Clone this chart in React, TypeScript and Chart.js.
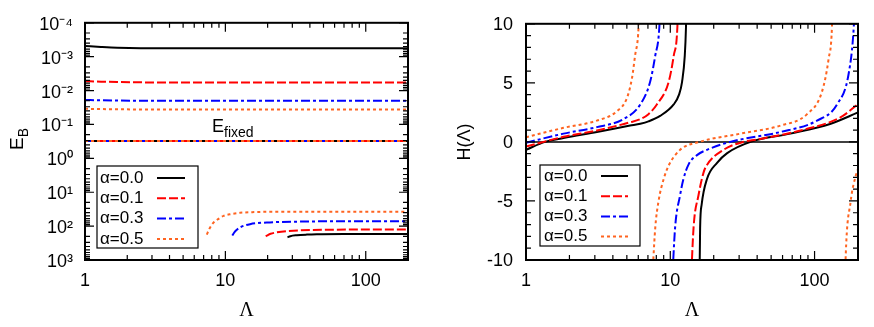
import React, { useEffect, useRef } from "react";
import { Chart, registerables } from "chart.js";

Chart.register(...registerables);

const SANS = "'Liberation Sans', Arial, Helvetica, sans-serif";
const SERIF = "'Liberation Serif', 'Times New Roman', serif";

// ---------- series meta ----------
const alphaLabels = ["α=0.0", "α=0.1", "α=0.3", "α=0.5"];
const colors = ["#000000", "#ff0000", "#0000ff", "#ff6420"];
const dashes: number[][] = [[], [9, 3], [9, 3, 3, 3], [3, 3]];

// ---------- ticks ----------
const xTicks = [1, 10, 100];
const eTickExponents = [-4, -3, -2, -1, 0, 1, 2, 3];
const hTicks = [-10, -5, 0, 5, 10];

// ---------- left panel: E_B vs Lambda ----------
const shallowLambda = [1, 1.3, 1.7, 2.5, 4, 200];
const shallowE0 = [4.83e-4, 5.15e-4, 5.43e-4, 5.62e-4, 5.65e-4, 5.65e-4];
const shallowE1 = [5.27e-3, 5.45e-3, 5.6e-3, 5.72e-3, 5.76e-3, 5.76e-3];
const shallowE3 = [0.019, 0.0194, 0.0197, 0.0199, 0.02, 0.02];
const shallowE5 = [0.0345, 0.0352, 0.0357, 0.036, 0.0361, 0.0361];

const fixedLambda = [1, 200];
const fixedE = [0.31, 0.31];

const deepLambda0 = [27.7, 29, 32.3, 38, 44.9, 80, 200];
const deepE0 = [213, 198, 186, 178, 174, 171, 170];
const deepLambda1 = [19.4, 20.2, 21, 23.2, 30.5, 58.9, 200];
const deepE1 = [200, 180, 168, 153, 136, 128, 125];
const deepLambda3 = [11.2, 11.5, 11.8, 12.7, 15, 19.7, 34, 60, 200];
const deepE3 = [190, 160, 140, 110, 87.5, 78.5, 73.5, 72, 71.8];
const deepLambda5 = [7.37, 7.7, 8.2, 9.0, 9.7, 11, 12.7, 16, 20, 40, 200];
const deepE5 = [178, 120, 80, 60, 50, 44, 40.5, 38.5, 37.8, 37.5, 37.5];

// ---------- right panel: H(Lambda) branches ----------
const hLamA0 = [1, 1.355, 1.82, 3.1, 5.27, 6.2, 7.06, 8.5, 10.56, 11.5, 12.07, 12.6, 12.85, 13.0];
const hValA0 = [-0.67, 0, 0.33, 0.84, 1.38, 1.54, 1.74, 2.2, 3.17, 4.0, 5.09, 7.28, 9.75, 13];
const hLamB0 = [15.9, 16.1, 16.5, 17.96, 21.1, 24.8, 36, 68, 128, 200];
const hValB0 = [-13, -7.26, -5.3, -3.14, -1.77, -0.95, 0, 0.7, 1.52, 2.49];

const hLamA1 = [1, 1.82, 3.1, 5.27, 6.2, 7.06, 8.07, 9.75, 10.56, 11.2, 11.4];
const hValA1 = [-0.4, 0.43, 0.97, 1.66, 1.93, 2.35, 3.17, 5.09, 7.28, 9.75, 13];
const hLamB1 = [13.8, 14.5, 15.7, 17.0, 17.96, 23.4, 32, 40, 80, 151, 200];
const hValB1 = [-13, -7.26, -4.5, -2.6, -1.95, -0.67, 0, 0.2, 0.97, 2.07, 3.2];

const hLamA3 = [1, 1.82, 3.1, 4.74, 6.2, 7.25, 7.86, 8.4, 8.6];
const hValA3 = [-0.07, 0.7, 1.25, 1.93, 3.17, 5.09, 7.28, 9.75, 13];
const hLamB3 = [10.2, 10.8, 11.7, 12.3, 13.4, 15.4, 17.96, 26, 58, 104, 143, 173, 187, 192];
const hValB3 = [-13, -7.26, -4.5, -3.2, -1.9, -1.1, -0.67, 0, 0.84, 1.8, 3.17, 5.9, 9.75, 13];

const hLamA5 = [1, 1.82, 3.1, 4.27, 5.0, 5.42, 5.7, 6.03, 6.15];
const hValA5 = [0.4, 1.19, 1.8, 2.6, 3.7, 5.37, 7.3, 9.75, 13];
const hLamB5 = [7.4, 7.87, 8.28, 9.0, 9.75, 11.7, 16.1, 30.6, 58, 88.7, 112.6, 125, 132, 134];
const hValB5 = [-13, -7.26, -5.06, -3.14, -2.0, -0.67, 0.02, 0.7, 1.38, 2.35, 4.26, 7.0, 9.75, 13];
const hLamC5 = [162, 164, 177.8, 193, 200];
const hValC5 = [-13, -10, -5.06, -2.86, -2.3];

const zeroLambda = [1, 200];
const zeroVal = [0, 0];

// ---------- helpers ----------
const SUP: Record<string, string> = {
  "-": "⁻", "0": "⁰", "1": "¹", "2": "²", "3": "³", "4": "⁴",
  "5": "⁵", "6": "⁶", "7": "⁷", "8": "⁸", "9": "⁹",
};
const supText = (n: number) => String(n).split("").map((c) => SUP[c]).join("");

const pts = (xs: number[], ys: number[]) => xs.map((x, i) => ({ x, y: ys[i] }));

function lineDs(data: any[], k: number) {
  return {
    data,
    borderColor: colors[k],
    backgroundColor: colors[k],
    borderWidth: 2,
    borderDash: dashes[k],
    pointRadius: 0,
    fill: false,
    cubicInterpolationMode: "monotone" as const,
    order: 10 - k,
  };
}

function logMinor(lo: number, hi: number) {
  const out: number[] = [];
  for (let d = lo; d <= hi * 10; d *= 10) {
    for (let m = 2; m <= 9; m++) {
      const v = m * d;
      if (v <= hi) out.push(v);
    }
  }
  return out;
}

function drawSub(ctx: CanvasRenderingContext2D, l: any) {
  ctx.save();
  ctx.translate(l.x, l.y);
  if (l.rot) ctx.rotate(l.rot);
  const mf = `${l.mainSize}px ${SANS}`;
  const sf = `${l.subSize}px ${SANS}`;
  ctx.font = mf;
  const w1 = ctx.measureText(l.main).width;
  ctx.font = sf;
  const w2 = ctx.measureText(l.sub).width;
  const x0 = l.center ? -(w1 + w2) / 2 : 0;
  ctx.textAlign = "left";
  ctx.textBaseline = "alphabetic";
  ctx.fillStyle = "#000";
  ctx.font = mf;
  ctx.fillText(l.main, x0, 0);
  ctx.font = sf;
  ctx.fillText(l.sub, x0 + w1, l.subDy);
  ctx.restore();
}

const framePlugin = {
  id: "frame",
  afterDatasetsDraw(chart: any, _args: any, opts: any) {
    const { ctx, chartArea: a } = chart;
    const xs = chart.scales.x;
    const ys = chart.scales.y;
    ctx.save();
    ctx.setLineDash([]);
    ctx.strokeStyle = "#000";
    ctx.lineWidth = 1.2;
    ctx.beginPath();
    const xt = (vals: number[], len: number) =>
      vals.forEach((v) => {
        const p = xs.getPixelForValue(v);
        if (p < a.left - 0.5 || p > a.right + 0.5) return;
        ctx.moveTo(p, a.bottom);
        ctx.lineTo(p, a.bottom - len);
        ctx.moveTo(p, a.top);
        ctx.lineTo(p, a.top + len);
      });
    const yt = (vals: number[], len: number) =>
      vals.forEach((v) => {
        const p = ys.getPixelForValue(v);
        if (p < a.top - 0.5 || p > a.bottom + 0.5) return;
        ctx.moveTo(a.left, p);
        ctx.lineTo(a.left + len, p);
        ctx.moveTo(a.right, p);
        ctx.lineTo(a.right - len, p);
      });
    xt(opts.xMajor, 9);
    xt(opts.xMinor, 5);
    yt(opts.yMajor, 9);
    yt(opts.yMinor, 5);
    ctx.stroke();
    ctx.lineWidth = 2;
    ctx.strokeRect(a.left, a.top, a.right - a.left, a.bottom - a.top);

    const lg = opts.legend;
    ctx.lineWidth = 1.2;
    ctx.strokeRect(lg.x, lg.y, lg.w, lg.h);
    ctx.font = `17px ${SANS}`;
    ctx.fillStyle = "#000";
    ctx.textBaseline = "middle";
    ctx.textAlign = "left";
    alphaLabels.forEach((t, k) => {
      const y = lg.row0 + k * lg.step;
      ctx.fillText(t, lg.textX, y);
      ctx.strokeStyle = colors[k];
      ctx.lineWidth = 2;
      ctx.setLineDash(dashes[k]);
      ctx.beginPath();
      ctx.moveTo(lg.s0, y);
      ctx.lineTo(lg.s1, y);
      ctx.stroke();
      ctx.setLineDash([]);
    });
    (opts.labels || []).forEach((l: any) => drawSub(ctx, l));
    ctx.restore();
  },
};

const tickFont = { family: SANS, size: 18 };

function xScale() {
  return {
    type: "logarithmic",
    min: 1,
    max: 200,
    afterBuildTicks: (s: any) => {
      s.ticks = xTicks.map((v) => ({ value: v }));
    },
    afterFit: (s: any) => {
      s.height = 67;
    },
    grid: { display: false, drawTicks: false },
    border: { display: false },
    ticks: {
      font: tickFont,
      color: "#000",
      padding: 10,
      autoSkip: false,
      maxRotation: 0,
      callback: (v: any) => String(v),
    },
    title: {
      display: true,
      text: "Λ",
      color: "#000",
      font: { family: SERIF, size: 20 },
      padding: { top: 0, bottom: 4 },
    },
  };
}

function leftConfig(): any {
  const datasets: any[] = [
    lineDs(pts(shallowLambda, shallowE0), 0),
    lineDs(pts(shallowLambda, shallowE1), 1),
    lineDs(pts(shallowLambda, shallowE3), 2),
    lineDs(pts(shallowLambda, shallowE5), 3),
    lineDs(pts(fixedLambda, fixedE), 0),
    lineDs(pts(fixedLambda, fixedE), 1),
    lineDs(pts(fixedLambda, fixedE), 2),
    lineDs(pts(fixedLambda, fixedE), 3),
    lineDs(pts(deepLambda0, deepE0), 0),
    lineDs(pts(deepLambda1, deepE1), 1),
    lineDs(pts(deepLambda3, deepE3), 2),
    lineDs(pts(deepLambda5, deepE5), 3),
  ];
  const yMinor: number[] = [];
  for (let e = -4; e < 3; e++) for (let m = 2; m <= 9; m++) yMinor.push(m * Math.pow(10, e));
  return {
    type: "line",
    data: { datasets },
    plugins: [framePlugin],
    options: {
      animation: false,
      responsive: false,
      devicePixelRatio: 1,
      layout: { padding: { left: 0, top: 17, right: 29, bottom: 0 } },
      plugins: {
        legend: { display: false },
        tooltip: { enabled: false },
        frame: {
          xMajor: xTicks,
          xMinor: logMinor(1, 200),
          yMajor: eTickExponents.map((e) => Math.pow(10, e)),
          yMinor,
          legend: { x: 97, y: 166, w: 101, h: 82, row0: 178, step: 20.3, textX: 100, s0: 157, s1: 185 },
          labels: [
            { x: 23, y: 139, rot: -Math.PI / 2, center: true, main: "E", sub: "B", mainSize: 19, subSize: 14, subDy: 5 },
            { x: 212, y: 132, rot: 0, center: false, main: "E", sub: "fixed", mainSize: 18, subSize: 14, subDy: 5 },
          ],
        },
      },
      scales: {
        x: xScale(),
        y: {
          type: "logarithmic",
          reverse: true,
          min: 1e-4,
          max: 1e3,
          afterBuildTicks: (s: any) => {
            s.ticks = eTickExponents.map((e) => ({ value: Math.pow(10, e) }));
          },
          afterFit: (s: any) => {
            s.width = 85;
          },
          grid: { display: false, drawTicks: false },
          border: { display: false },
          ticks: {
            font: tickFont,
            color: "#000",
            padding: 12,
            labelOffset: 2,
            autoSkip: false,
            callback: (v: any) => "10" + supText(Math.round(Math.log10(Number(v)))),
          },
        },
      },
    },
  };
}

function rightConfig(): any {
  const datasets: any[] = [
    {
      data: pts(zeroLambda, zeroVal),
      borderColor: "#000",
      borderWidth: 1.5,
      pointRadius: 0,
      fill: false,
      order: 20,
    },
    lineDs(pts(hLamA0, hValA0), 0),
    lineDs(pts(hLamB0, hValB0), 0),
    lineDs(pts(hLamA1, hValA1), 1),
    lineDs(pts(hLamB1, hValB1), 1),
    lineDs(pts(hLamA3, hValA3), 2),
    lineDs(pts(hLamB3, hValB3), 2),
    lineDs(pts(hLamA5, hValA5), 3),
    lineDs(pts(hLamB5, hValB5), 3),
    lineDs(pts(hLamC5, hValC5), 3),
  ];
  const yMinor: number[] = [];
  for (let v = -9; v <= 9; v++) if (v % 5 !== 0) yMinor.push(v);
  return {
    type: "line",
    data: { datasets },
    plugins: [framePlugin],
    options: {
      animation: false,
      responsive: false,
      devicePixelRatio: 1,
      layout: { padding: { left: 0, top: 17, right: 16, bottom: 0 } },
      plugins: {
        legend: { display: false },
        tooltip: { enabled: false },
        frame: {
          xMajor: xTicks,
          xMinor: logMinor(1, 200),
          yMajor: hTicks,
          yMinor,
          legend: { x: 103, y: 165, w: 100, h: 81, row0: 176, step: 20.2, textX: 107, s0: 164, s1: 191 },
          labels: [],
        },
      },
      scales: {
        x: xScale(),
        y: {
          type: "linear",
          min: -10,
          max: 10,
          afterBuildTicks: (s: any) => {
            s.ticks = hTicks.map((v) => ({ value: v }));
          },
          afterFit: (s: any) => {
            s.width = 89;
          },
          grid: { display: false, drawTicks: false },
          border: { display: false },
          ticks: {
            font: tickFont,
            color: "#000",
            padding: 13,
            labelOffset: 1,
            autoSkip: false,
            callback: (v: any) => String(v),
          },
          title: {
            display: true,
            text: "H(Λ)",
            color: "#000",
            font: { family: SANS, size: 18 },
            padding: { top: 17, bottom: 0 },
          },
        },
      },
    },
  };
}

function ChartCanvas({ make, left }: { make: () => any; left: number }) {
  const ref = useRef<HTMLCanvasElement | null>(null);
  useEffect(() => {
    if (!ref.current) return;
    const chart = new Chart(ref.current, make());
    return () => chart.destroy();
  }, [make]);
  return (
    <canvas
      ref={ref}
      width={437}
      height={327}
      style={{ position: "absolute", left, top: 0, width: 437, height: 327, display: "block" }}
    />
  );
}

export default function App() {
  return (
    <div
      style={{
        position: "absolute",
        left: 0,
        top: 0,
        width: 874,
        height: 327,
        background: "#ffffff",
        overflow: "hidden",
      }}
    >
      <ChartCanvas make={leftConfig} left={0} />
      <ChartCanvas make={rightConfig} left={437} />
    </div>
  );
}
